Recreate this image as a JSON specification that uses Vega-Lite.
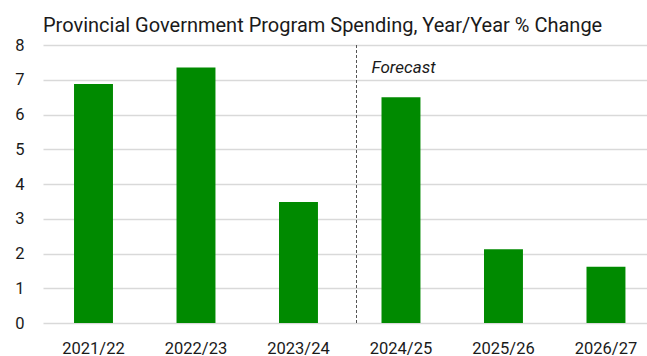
{
  "$schema": "https://vega.github.io/schema/vega-lite/v6.json",
  "width": 604,
  "height": 278,
  "autosize": {"type": "none"},
  "padding": {"left": 43, "top": 45, "right": 0, "bottom": 33},
  "background": "white",
  "title": {
    "text": "Provincial Government Program Spending, Year/Year % Change",
    "anchor": "start",
    "frame": "group",
    "font": "Roboto",
    "fontSize": 20,
    "fontWeight": "normal",
    "color": "#1a1a1a",
    "baseline": "bottom",
    "offset": 1,
    "dy": 20
  },
  "config": {
    "view": {"stroke": null},
    "font": "Roboto",
    "axisY": {
      "tickCount": 8,
      "labelFontSize": 16.5,
      "labelColor": "#1a1a1a",
      "labelPadding": 19,
      "labelOverlap": false,
      "domain": false,
      "ticks": false,
      "grid": true,
      "gridColor": "#d9d9d9",
      "gridWidth": 1.5
    }
  },
  "datasets": {
    "bars": [
      {"year": "2021/22", "value": 6.88},
      {"year": "2022/23", "value": 7.35},
      {"year": "2023/24", "value": 3.48},
      {"year": "2024/25", "value": 6.5},
      {"year": "2025/26", "value": 2.12},
      {"year": "2026/27", "value": 1.62}
    ],
    "marker": [
      {"year": "2024/25", "label": "Forecast", "top": 8, "bottom": 0, "labelY": 7.2}
    ]
  },
  "encoding": {
    "x": {
      "field": "year",
      "type": "nominal",
      "sort": null,
      "scale": {"paddingInner": 0.62, "paddingOuter": 0.2565, "align": 0.59},
      "axis": {
        "title": null,
        "labelAngle": 0,
        "labelFontSize": 16.5,
        "labelColor": "#1a1a1a",
        "labelPadding": 17,
        "domain": false,
        "ticks": false
      }
    }
  },
  "layer": [
    {
      "data": {"name": "bars"},
      "mark": {"type": "bar", "color": "#008a00"},
      "encoding": {
        "y": {
          "field": "value",
          "type": "quantitative",
          "scale": {"domain": [0, 8], "nice": false},
          "axis": {"title": null}
        }
      }
    },
    {
      "data": {"name": "marker"},
      "mark": {"type": "rule", "color": "#555555", "strokeDash": [3, 2], "strokeWidth": 1, "xOffset": -25},
      "encoding": {
        "x": {"field": "year", "type": "nominal", "bandPosition": 0},
        "y": {"field": "top", "type": "quantitative", "axis": {"title": null}},
        "y2": {"field": "bottom"}
      }
    },
    {
      "data": {"name": "marker"},
      "mark": {"type": "text", "align": "left", "baseline": "alphabetic", "fontStyle": "italic", "fontSize": 17, "color": "#1a1a1a", "xOffset": -10},
      "encoding": {
        "x": {"field": "year", "type": "nominal", "bandPosition": 0},
        "y": {"field": "labelY", "type": "quantitative", "axis": {"title": null}},
        "text": {"field": "label"}
      }
    }
  ]
}
